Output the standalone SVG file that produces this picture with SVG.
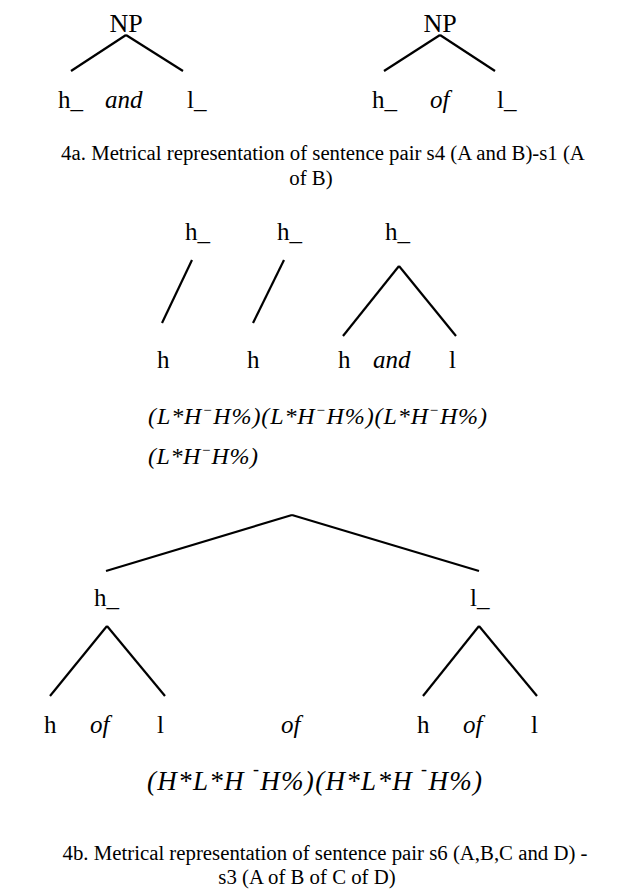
<svg xmlns="http://www.w3.org/2000/svg" width="617" height="889" viewBox="0 0 617 889">
<style>
.t{font-family:"Liberation Serif","Times New Roman",serif;fill:#000}
.lbl{font-size:25px}
.np{font-size:26px}
.it{font-style:italic}
.cap{font-size:20.8px}
.f1{font-size:24px;font-style:italic}
.f2{font-size:27px;font-style:italic}
.e{stroke:#000;stroke-width:2.2;fill:none;stroke-linecap:butt}
</style>
<rect width="617" height="889" fill="#fff"/>
<g id="connectors">
<line class="e" x1="126" y1="35" x2="71" y2="71"/>
<line class="e" x1="126" y1="35" x2="183" y2="71"/>
<line class="e" x1="440" y1="35" x2="384" y2="71"/>
<line class="e" x1="440" y1="35" x2="495" y2="71"/>
<line class="e" x1="192" y1="260" x2="162" y2="323"/>
<line class="e" x1="284" y1="260" x2="253" y2="323"/>
<line class="e" x1="399" y1="266" x2="343" y2="336"/>
<line class="e" x1="399" y1="266" x2="456" y2="336"/>
<line class="e" x1="292" y1="515" x2="106" y2="571"/>
<line class="e" x1="292" y1="515" x2="479" y2="571"/>
<line class="e" x1="107" y1="626" x2="50" y2="696"/>
<line class="e" x1="107" y1="626" x2="165" y2="696"/>
<line class="e" x1="479" y1="626" x2="423" y2="696"/>
<line class="e" x1="479" y1="626" x2="537" y2="696"/>
</g>
<g id="np1"><text class="t np" x="126" y="32" text-anchor="middle">NP</text></g>
<g id="np1-h"><text class="t lbl" x="58" y="108">h_</text></g>
<g id="np1-and"><text class="t lbl it" x="105" y="108">and</text></g>
<g id="np1-l"><text class="t lbl" x="187" y="108">l_</text></g>
<g id="np2"><text class="t np" x="440" y="32" text-anchor="middle">NP</text></g>
<g id="np2-h"><text class="t lbl" x="372" y="108">h_</text></g>
<g id="np2-of"><text class="t lbl it" x="430" y="108">of</text></g>
<g id="np2-l"><text class="t lbl" x="497" y="108">l_</text></g>
<g id="cap4a"><text class="t cap" x="323" y="160" text-anchor="middle">4a. Metrical representation of sentence pair s4 (A and B)-s1 (A</text>
<text class="t cap" x="311" y="185" text-anchor="middle">of B)</text></g>
<g id="m-h1"><text class="t lbl" x="185" y="240">h_</text></g>
<g id="m-h2"><text class="t lbl" x="277" y="240">h_</text></g>
<g id="m-h3"><text class="t lbl" x="385" y="240">h_</text></g>
<g id="m-b1"><text class="t lbl" x="157" y="368">h</text></g>
<g id="m-b2"><text class="t lbl" x="247" y="368">h</text></g>
<g id="m-b3"><text class="t lbl" x="338" y="368">h</text></g>
<g id="m-and"><text class="t lbl it" x="373" y="368">and</text></g>
<g id="m-l"><text class="t lbl" x="449" y="368">l</text></g>
<g id="formula1">
<text class="t f1" x="148" y="424" textLength="339" lengthAdjust="spacing">(L*H<tspan dy="-9" font-size="15">−</tspan><tspan dy="9">H%)(L*H</tspan><tspan dy="-9" font-size="15">−</tspan><tspan dy="9">H%)(L*H</tspan><tspan dy="-9" font-size="15">−</tspan><tspan dy="9">H%)</tspan></text>
<text class="t f1" x="148" y="464" textLength="110" lengthAdjust="spacing">(L*H<tspan dy="-9" font-size="15">−</tspan><tspan dy="9">H%)</tspan></text>
</g>
<g id="b-top"><text class="t lbl" x="94" y="606">h_</text></g>
<g id="b-l"><text class="t lbl" x="470" y="606">l_</text></g>
<g id="b-h1"><text class="t lbl" x="44" y="733">h</text></g>
<g id="b-of1"><text class="t lbl it" x="90" y="733">of</text></g>
<g id="b-l1"><text class="t lbl" x="157" y="733">l</text></g>
<g id="b-of"><text class="t lbl it" x="281" y="733">of</text></g>
<g id="b-h2"><text class="t lbl" x="417" y="733">h</text></g>
<g id="b-of2"><text class="t lbl it" x="463" y="733">of</text></g>
<g id="b-l2"><text class="t lbl" x="531" y="733">l</text></g>
<g id="formula2">
<text class="t f2" x="147" y="790" textLength="335" lengthAdjust="spacing">(H*L*H <tspan dy="-15" font-size="18">-</tspan><tspan dy="15">H%)(H*L*H </tspan><tspan dy="-15" font-size="18">-</tspan><tspan dy="15">H%)</tspan></text>
</g>
<g id="cap4b"><text class="t cap" x="325" y="860" text-anchor="middle">4b. Metrical representation of sentence pair s6 (A,B,C and D) -</text>
<text class="t cap" x="307" y="884" text-anchor="middle">s3 (A of B of C of D)</text></g>
</svg>
